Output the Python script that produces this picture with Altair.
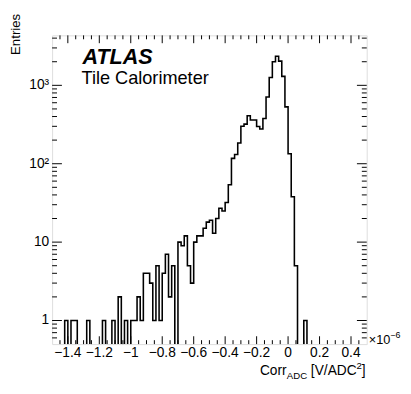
import altair as alt
import pandas as pd

# ---- data ----
x_start = -1.5
x_end = 0.5
bin_width = 0.02
counts = [
    0, 0, 0, 0, 1, 0, 1, 1, 0, 0,
    0, 1, 0, 0, 0, 0, 1, 0, 0, 1,
    0, 2, 0, 1, 0, 1, 1, 2, 1, 4,
    4, 3, 1, 5, 1, 4, 7, 2, 5, 0,
    10, 9, 12, 5, 3, 10, 12, 12, 15, 18,
    19, 13, 20, 27, 25, 32, 54, 117, 131, 184,
    300, 320, 410, 362, 362, 299, 278, 378, 708, 1259,
    1995, 2350, 2035, 1300, 531, 134, 38, 5, 0, 0,
    1, 0, 0, 0, 0, 0, 0, 0, 0, 0,
    0, 0, 0, 0, 0, 0, 0, 0, 0, 0,
]
x_major = [-1.4, -1.2, -1.0, -0.8, -0.6, -0.4, -0.2, 0.0, 0.2, 0.4]
x_labels = ["−1.4", "−1.2", "−1", "−0.8", "−0.6", "−0.4", "−0.2", "0", "0.2", "0.4"]
x_minor = [-1.45, -1.35, -1.3, -1.25, -1.15, -1.1, -1.05, -0.95, -0.9, -0.85,
           -0.75, -0.7, -0.65, -0.55, -0.5, -0.45, -0.35, -0.3, -0.25, -0.15,
           -0.1, -0.05, 0.05, 0.1, 0.15, 0.25, 0.3, 0.35, 0.45]
y_major = [1, 10, 100, 1000]
y_labels = ["1", "10", "10²", "10³"]
y_minor = [0.6, 0.7, 0.8, 0.9, 2, 3, 4, 5, 6, 7, 8, 9,
           20, 30, 40, 50, 60, 70, 80, 90,
           200, 300, 400, 500, 600, 700, 800, 900, 2000, 3000, 4000]
y_domain = [0.5, 4340]

W, H = 321, 315
FONT = "Liberation Sans"

# histogram outline (step-after through bin edges); empty bins drawn below the frame
edges = [x_start + i * bin_width for i in range(len(counts) + 1)]
vals = [c if c > 0 else 0.05 for c in counts] + [counts[-1] if counts[-1] > 0 else 0.05]
hist_df = pd.DataFrame({"x": edges, "y": vals})

xs = alt.Scale(domain=[x_start, x_end], nice=False, zero=False)
ys = alt.Scale(type="log", domain=y_domain, nice=False)

hist = alt.Chart(hist_df).mark_line(
    interpolate="step-after", color="black", strokeWidth=1.6, clip=True
).encode(
    x=alt.X("x:Q", scale=xs, axis=None),
    y=alt.Y("y:Q", scale=ys, axis=None),
)

def xrule(vals_, y0, y1):
    return alt.Chart(pd.DataFrame({"x": vals_})).mark_rule(color="black", strokeWidth=1).encode(
        x=alt.X("x:Q", scale=xs, axis=None), y=alt.value(y0), y2=alt.value(y1))

def yrule(vals_, x0, x1):
    return alt.Chart(pd.DataFrame({"y": vals_})).mark_rule(color="black", strokeWidth=1).encode(
        y=alt.Y("y:Q", scale=ys, axis=None), x=alt.value(x0), x2=alt.value(x1))

ticks = [
    xrule(x_major, H, H - 8), xrule(x_minor, H, H - 4),
    xrule(x_major, 0, 8), xrule(x_minor, 0, 4),
    yrule(y_major, 0, 10), yrule(y_minor, 0, 5),
    yrule(y_major, W, W - 10), yrule(y_minor, W, W - 5),
]

xlab = alt.Chart(pd.DataFrame({"x": x_major, "t": x_labels})).mark_text(
    font=FONT, fontSize=14, color="black", align="center", baseline="top"
).encode(x=alt.X("x:Q", scale=xs, axis=None), y=alt.value(H + 2), text="t:N")

ylab = alt.Chart(pd.DataFrame({"y": y_major, "t": y_labels})).mark_text(
    font=FONT, fontSize=14, color="black", align="right", baseline="middle"
).encode(y=alt.Y("y:Q", scale=ys, axis=None), x=alt.value(-3), text="t:N")

one = pd.DataFrame({"a": [0]})

def txt(t, x, y, size, **kw):
    return alt.Chart(one).mark_text(text=t, font=FONT, fontSize=size, color="black",
                                    align=kw.pop("align", "left"),
                                    baseline=kw.pop("baseline", "alphabetic"), **kw).encode(
        x=alt.value(x), y=alt.value(y))

texts = [
    txt("ATLAS", 31, 29.5, 22, fontWeight="bold", fontStyle="italic"),
    txt("Tile Calorimeter", 30, 49.5, 18.5),
    txt("×10", W + 2, H, 13),
    txt("−6", W + 24, H - 6, 9),
    txt("Corr", 212, 347, 14),
    txt("ADC", 239.5, 351, 9.8),
    txt("[V/ADC", 264, 347, 14),
    txt("2", 310.5, 340, 9.8),
    txt("]", 316, 347, 14),
    txt("Entries", -37, -22, 13.5, angle=270, align="right", baseline="middle"),
]

chart = alt.layer(hist, *ticks, xlab, ylab, *texts).properties(
    width=W, height=H,
    autosize=alt.AutoSizeParams(type="none"),
    padding={"left": 45, "top": 24, "right": 37, "bottom": 47},
).configure_view(stroke="black", strokeWidth=1.2).configure(background="white")

chart.save("out.html", embed_options={"renderer": "svg", "actions": False})
